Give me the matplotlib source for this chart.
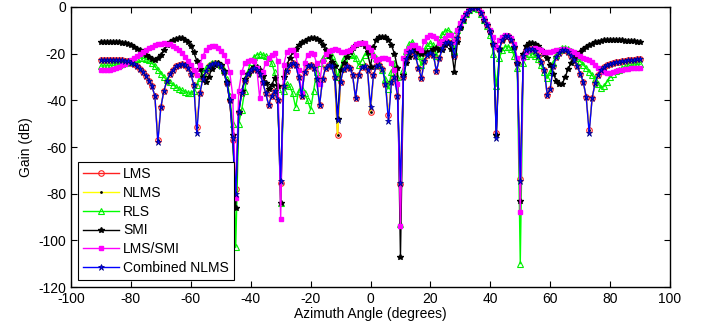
import matplotlib
matplotlib.use("Agg")
import matplotlib.pyplot as plt

# Azimuth grid (1 degree steps, -90..90)
angles = list(range(-90, 91))

# Combined NLMS (blue)
combined_db = [
    -22.7, -22.7, -22.7, -22.6, -22.6, -22.6, -22.7, -22.8, -23.0, -23.3,
    -23.8, -24.5, -25.5, -26.7, -28.0, -29.6, -31.5, -34.0, -38.0, -58.0,
    -43.0, -36.0, -31.8, -28.8, -26.8, -25.5, -24.8, -24.6, -25.0, -26.2,
    -28.5, -33.5, -54.0, -37.0, -31.0, -27.5, -25.5, -24.3, -24.0, -24.3,
    -25.5, -28.0, -32.5, -40.0, -56.0, -80.0, -45.0, -37.0, -31.5, -28.5,
    -26.8, -26.2, -26.8, -28.8, -32.0, -37.0, -42.0, -38.0, -36.0, -40.0,
    -74.5, -34.0, -27.5, -25.0, -24.2, -24.8, -30.0, -38.0, -28.0, -25.5,
    -25.0, -26.0, -31.0, -42.0, -31.0, -26.0, -25.0, -25.5, -30.0, -48.5,
    -32.0, -26.5, -25.5, -26.0, -29.0, -39.0, -29.0, -25.8, -25.5, -27.0,
    -42.7, -29.0, -25.5, -25.0, -26.5, -33.0, -49.0, -32.0, -30.0, -38.0,
    -75.5, -30.0, -22.5, -19.5, -19.0, -21.0, -26.0, -30.5, -23.0, -20.5,
    -19.8, -20.5, -27.5, -22.0, -17.5, -15.5, -14.8, -15.5, -21.0, -13.5,
    -8.5, -5.5, -3.0, -1.3, -0.3, 0.0, -0.5, -2.5, -5.5, -7.7,
    -10.5, -16.0, -56.0, -18.0, -14.0, -12.5, -12.6, -14.0, -17.0, -24.0,
    -74.5, -21.0, -18.5, -17.8, -18.0, -19.0, -21.0, -23.5, -27.0, -37.5,
    -35.0, -25.5, -21.5, -19.8, -18.6, -18.4, -19.5, -21.0, -22.7, -25.5,
    -28.5, -32.0, -38.5, -54.0, -39.0, -32.5, -29.0, -27.0, -25.8, -25.0,
    -24.3, -23.9, -23.6, -23.4, -23.2, -23.0, -22.8, -22.7, -22.6, -22.5, -22.5,
]

# LMS (red)
lms_db = [
    -22.7, -22.7, -22.7, -22.6, -22.6, -22.6, -22.7, -22.8, -23.0, -23.3,
    -23.8, -24.5, -25.5, -26.7, -28.0, -29.6, -31.5, -34.0, -38.0, -57.0,
    -43.0, -36.0, -31.8, -28.8, -26.8, -25.5, -24.8, -24.6, -25.0, -26.2,
    -28.5, -33.5, -51.5, -37.0, -31.0, -27.5, -25.5, -24.3, -24.0, -24.3,
    -25.5, -28.0, -32.5, -40.0, -57.0, -78.0, -45.0, -37.0, -31.5, -28.5,
    -26.8, -26.2, -26.8, -28.8, -32.0, -37.0, -42.0, -38.0, -36.0, -40.0,
    -75.5, -34.0, -27.5, -25.0, -24.2, -24.8, -30.0, -38.0, -28.0, -25.5,
    -25.0, -26.0, -31.0, -42.0, -31.0, -26.0, -25.0, -25.5, -30.0, -55.0,
    -32.0, -26.5, -25.5, -26.0, -29.0, -39.0, -29.0, -25.8, -25.5, -27.0,
    -45.0, -29.0, -25.5, -25.0, -26.5, -33.0, -46.3, -32.0, -30.0, -38.0,
    -76.0, -30.0, -22.5, -19.5, -19.0, -21.0, -26.0, -30.5, -23.0, -20.5,
    -19.8, -20.5, -27.5, -22.0, -17.5, -15.5, -14.8, -15.5, -21.0, -13.5,
    -8.5, -5.5, -3.0, -1.3, -0.3, 0.0, -0.5, -2.5, -5.5, -7.7,
    -10.5, -16.0, -54.0, -18.0, -14.0, -12.5, -12.6, -14.0, -17.0, -24.0,
    -73.7, -21.0, -18.5, -17.8, -18.0, -19.0, -21.0, -23.5, -27.0, -37.7,
    -35.0, -25.5, -21.5, -19.8, -18.6, -18.4, -19.5, -21.0, -22.7, -25.5,
    -28.5, -32.0, -38.5, -52.5, -39.0, -32.5, -29.0, -27.0, -25.8, -25.0,
    -24.3, -23.9, -23.6, -23.4, -23.2, -23.0, -22.8, -22.7, -22.6, -22.5, -22.5,
]

# NLMS (yellow) lies on top of LMS everywhere in the picture
nlms_db = list(lms_db)

# RLS (green)
rls_db = [
    -25.3, -25.3, -25.2, -25.1, -25.0, -24.9, -24.7, -24.4, -24.0, -23.5,
    -23.0, -22.5, -22.1, -21.9, -21.9, -22.2, -22.9, -24.0, -25.5, -27.0,
    -28.5, -30.0, -31.2, -32.3, -33.3, -34.2, -35.0, -35.7, -36.3, -36.8,
    -37.0, -36.0, -33.5, -30.5, -28.0, -26.3, -25.0, -24.2, -24.0, -24.2,
    -25.0, -27.0, -31.0, -38.0, -50.0, -103.0, -50.0, -44.0, -36.0, -28.0,
    -23.5, -21.5, -20.5, -20.3, -20.5, -21.0, -22.0, -24.0, -28.0, -35.0,
    -84.0, -36.0, -33.0, -34.0, -37.0, -43.0, -36.0, -35.0, -37.0, -40.0,
    -44.0, -36.0, -28.0, -24.0, -22.0, -20.5, -20.0, -21.0, -24.0, -30.0,
    -26.0, -22.0, -20.5, -20.0, -20.5, -22.0, -25.0, -23.0, -20.5, -19.5,
    -19.0, -20.0, -22.0, -25.0, -27.0, -31.0, -35.0, -28.0, -24.0, -30.0,
    -93.0, -27.0, -19.0, -16.0, -15.0, -17.0, -21.0, -25.0, -19.0, -16.5,
    -15.5, -16.5, -21.0, -15.0, -11.5, -10.2, -10.0, -11.5, -19.0, -10.0,
    -8.0, -5.5, -3.2, -1.5, -0.5, -0.2, -0.8, -2.8, -5.5, -8.0,
    -12.0, -20.0, -34.0, -22.0, -18.5, -17.0, -17.0, -18.0, -21.0, -26.0,
    -110.0, -24.0, -21.0, -20.0, -20.0, -21.0, -22.5, -25.0, -27.7, -30.6,
    -28.0, -24.0, -20.5, -18.5, -17.7, -17.6, -18.0, -19.0, -20.3, -21.8,
    -23.3, -24.8, -26.2, -27.7, -29.2, -31.0, -33.0, -34.8, -34.0, -32.0,
    -30.0, -28.5, -27.5, -27.0, -26.3, -25.8, -25.4, -25.1, -24.9, -24.7, -24.6,
]

# SMI (black)
smi_db = [
    -14.9, -14.9, -14.9, -14.9, -15.0, -15.0, -15.1, -15.3, -15.6, -16.0,
    -16.5, -17.1, -17.8, -18.6, -19.5, -20.4, -21.3, -22.2, -22.7, -22.0,
    -20.5, -18.5, -16.5, -15.0, -14.1, -13.6, -13.4, -13.5, -14.0, -15.0,
    -16.8, -19.5, -23.0, -26.5, -30.0, -32.0, -30.0, -26.5, -24.8, -24.2,
    -25.0, -27.5, -32.0, -40.0, -55.0, -86.0, -45.0, -36.0, -31.0, -28.5,
    -26.8, -25.8, -25.8, -27.0, -29.5, -32.5, -35.0, -33.5, -30.5, -34.0,
    -84.0, -30.0, -25.0, -22.0, -19.5, -17.8, -16.3, -15.2, -14.4, -13.8,
    -13.5, -13.4, -13.7, -14.6, -16.2, -18.4, -21.0, -23.5, -25.5, -48.0,
    -27.0, -24.0, -21.5, -19.1, -17.5, -16.3, -15.7, -15.6, -16.8, -19.5,
    -25.6, -17.0, -14.2, -13.0, -12.7, -13.0, -14.3, -16.5, -20.0, -26.0,
    -107.0, -29.0, -24.0, -21.3, -19.0, -18.6, -19.5, -20.0, -19.9, -19.5,
    -19.1, -18.2, -17.7, -18.5, -18.4, -16.5, -15.6, -18.0, -27.7, -15.0,
    -9.0, -5.5, -3.0, -1.3, -0.3, 0.0, -0.5, -2.5, -5.5, -7.8,
    -10.6, -16.0, -55.0, -18.0, -14.0, -12.5, -12.6, -14.0, -17.0, -24.0,
    -83.0, -20.0, -16.8, -15.6, -15.3, -15.8, -16.8, -18.3, -20.0, -22.0,
    -25.0, -28.5, -31.5, -33.2, -33.0, -30.0, -26.5, -24.0, -22.0, -20.6,
    -19.3, -18.2, -17.2, -16.3, -15.7, -15.1, -14.8, -14.5, -14.3, -14.2,
    -14.1, -14.1, -14.1, -14.2, -14.3, -14.4, -14.5, -14.6, -14.7, -14.8, -14.9,
]

# LMS/SMI (magenta)
lms_smi_db = [
    -27.0, -27.0, -27.0, -26.8, -26.5, -26.2, -25.6, -25.0, -24.3, -23.5,
    -22.8, -22.0, -21.2, -20.3, -19.4, -18.5, -17.7, -17.0, -16.4, -16.0,
    -15.7, -15.6, -15.7, -16.0, -16.6, -17.4, -18.5, -19.8, -21.3, -23.0,
    -25.0, -27.0, -29.0, -25.0, -21.0, -18.5, -17.2, -16.7, -16.8, -17.5,
    -18.8, -20.5, -23.0, -28.0, -38.0, -82.0, -36.0, -28.0, -24.1, -23.0,
    -22.7, -23.3, -26.0, -39.0, -28.0, -24.0, -22.0, -20.5, -19.8, -23.0,
    -91.0, -25.0, -19.5, -18.5, -18.5, -20.5, -27.0, -37.0, -24.0, -20.5,
    -19.8, -20.0, -24.0, -33.0, -23.0, -20.0, -18.8, -18.4, -17.8, -18.5,
    -19.1, -19.5, -18.8, -18.4, -17.0, -16.0, -15.6, -15.5, -15.6, -17.0,
    -18.4, -21.0, -22.7, -22.5, -22.0, -22.0, -22.5, -24.0, -27.0, -33.0,
    -94.0, -22.0, -19.0, -17.5, -16.3, -16.5, -17.5, -18.5, -14.5, -13.0,
    -12.0, -12.3, -13.5, -15.6, -14.5, -13.2, -12.2, -12.0, -15.0, -10.0,
    -7.0, -4.5, -2.5, -1.0, -0.2, 0.0, -0.5, -2.2, -4.8, -7.5,
    -10.0, -13.0, -17.0, -14.0, -12.7, -12.0, -12.3, -13.5, -16.0, -22.0,
    -88.0, -22.0, -19.5, -18.5, -18.0, -17.7, -17.9, -18.5, -19.1, -19.5,
    -19.5, -19.0, -18.6, -18.3, -18.1, -18.1, -18.3, -18.8, -19.5, -20.3,
    -21.0, -21.8, -22.3, -22.8, -23.7, -24.8, -26.0, -27.0, -27.7, -28.1,
    -28.1, -27.9, -27.5, -27.2, -27.0, -26.7, -26.5, -26.3, -26.2, -26.1, -26.0,
]

x_ticks = [-100, -80, -60, -40, -20, 0, 20, 40, 60, 80, 100]
y_ticks = [-120, -100, -80, -60, -40, -20, 0]

plt.rcParams.update({
    "font.family": ["Liberation Sans", "DejaVu Sans"],
    "font.size": 10,
    "axes.unicode_minus": False,
})

fig = plt.figure(figsize=(7.07, 3.27), dpi=100)
ax = fig.add_axes([0.1004, 0.1223, 0.8473, 0.8563])

ax.plot(angles, lms_db, color="#ff2020", lw=1.0, marker="o", ms=4,
        mfc="none", mec="#ff2020", mew=0.8, label="LMS")
ax.plot(angles, nlms_db, color="#ffff00", lw=1.0, marker=".", ms=2,
        mfc="k", mec="k", label="NLMS")
ax.plot(angles, rls_db, color="#00ff00", lw=1.0, marker="^", ms=4.5,
        mfc="none", mec="#00ee00", mew=0.8, label="RLS")
ax.plot(angles, smi_db, color="k", lw=1.0, marker="*", ms=4,
        mfc="k", mec="k", label="SMI")
ax.plot(angles, lms_smi_db, color="#ff00ff", lw=1.0, marker="s", ms=3,
        mfc="#ff00ff", mec="#ff00ff", label="LMS/SMI")
ax.plot(angles, combined_db, color="#0000ff", lw=1.0, marker="*", ms=4.5,
        mfc="#0000ff", mec="#000080", mew=0.5, label="Combined NLMS")

ax.set_xlim(-100, 100)
ax.set_ylim(-120, 0)
ax.set_xticks(x_ticks)
ax.set_yticks(y_ticks)
ax.tick_params(direction="in", top=True, right=True, length=4, width=0.8,
               labelsize=10)
for sp in ax.spines.values():
    sp.set_linewidth(1.0)

ax.set_xlabel("Azimuth Angle (degrees)", fontsize=10, labelpad=1)
ax.set_ylabel("Gain (dB)", fontsize=10, labelpad=4)

leg = ax.legend(loc="lower left", fontsize=10, frameon=True, fancybox=False,
                edgecolor="k", framealpha=1, borderaxespad=0.5,
                labelspacing=0.35, handlelength=2.6, handletextpad=0.3,
                borderpad=0.35)
leg.get_frame().set_linewidth(0.8)

fig.savefig("out.png", dpi=100)
